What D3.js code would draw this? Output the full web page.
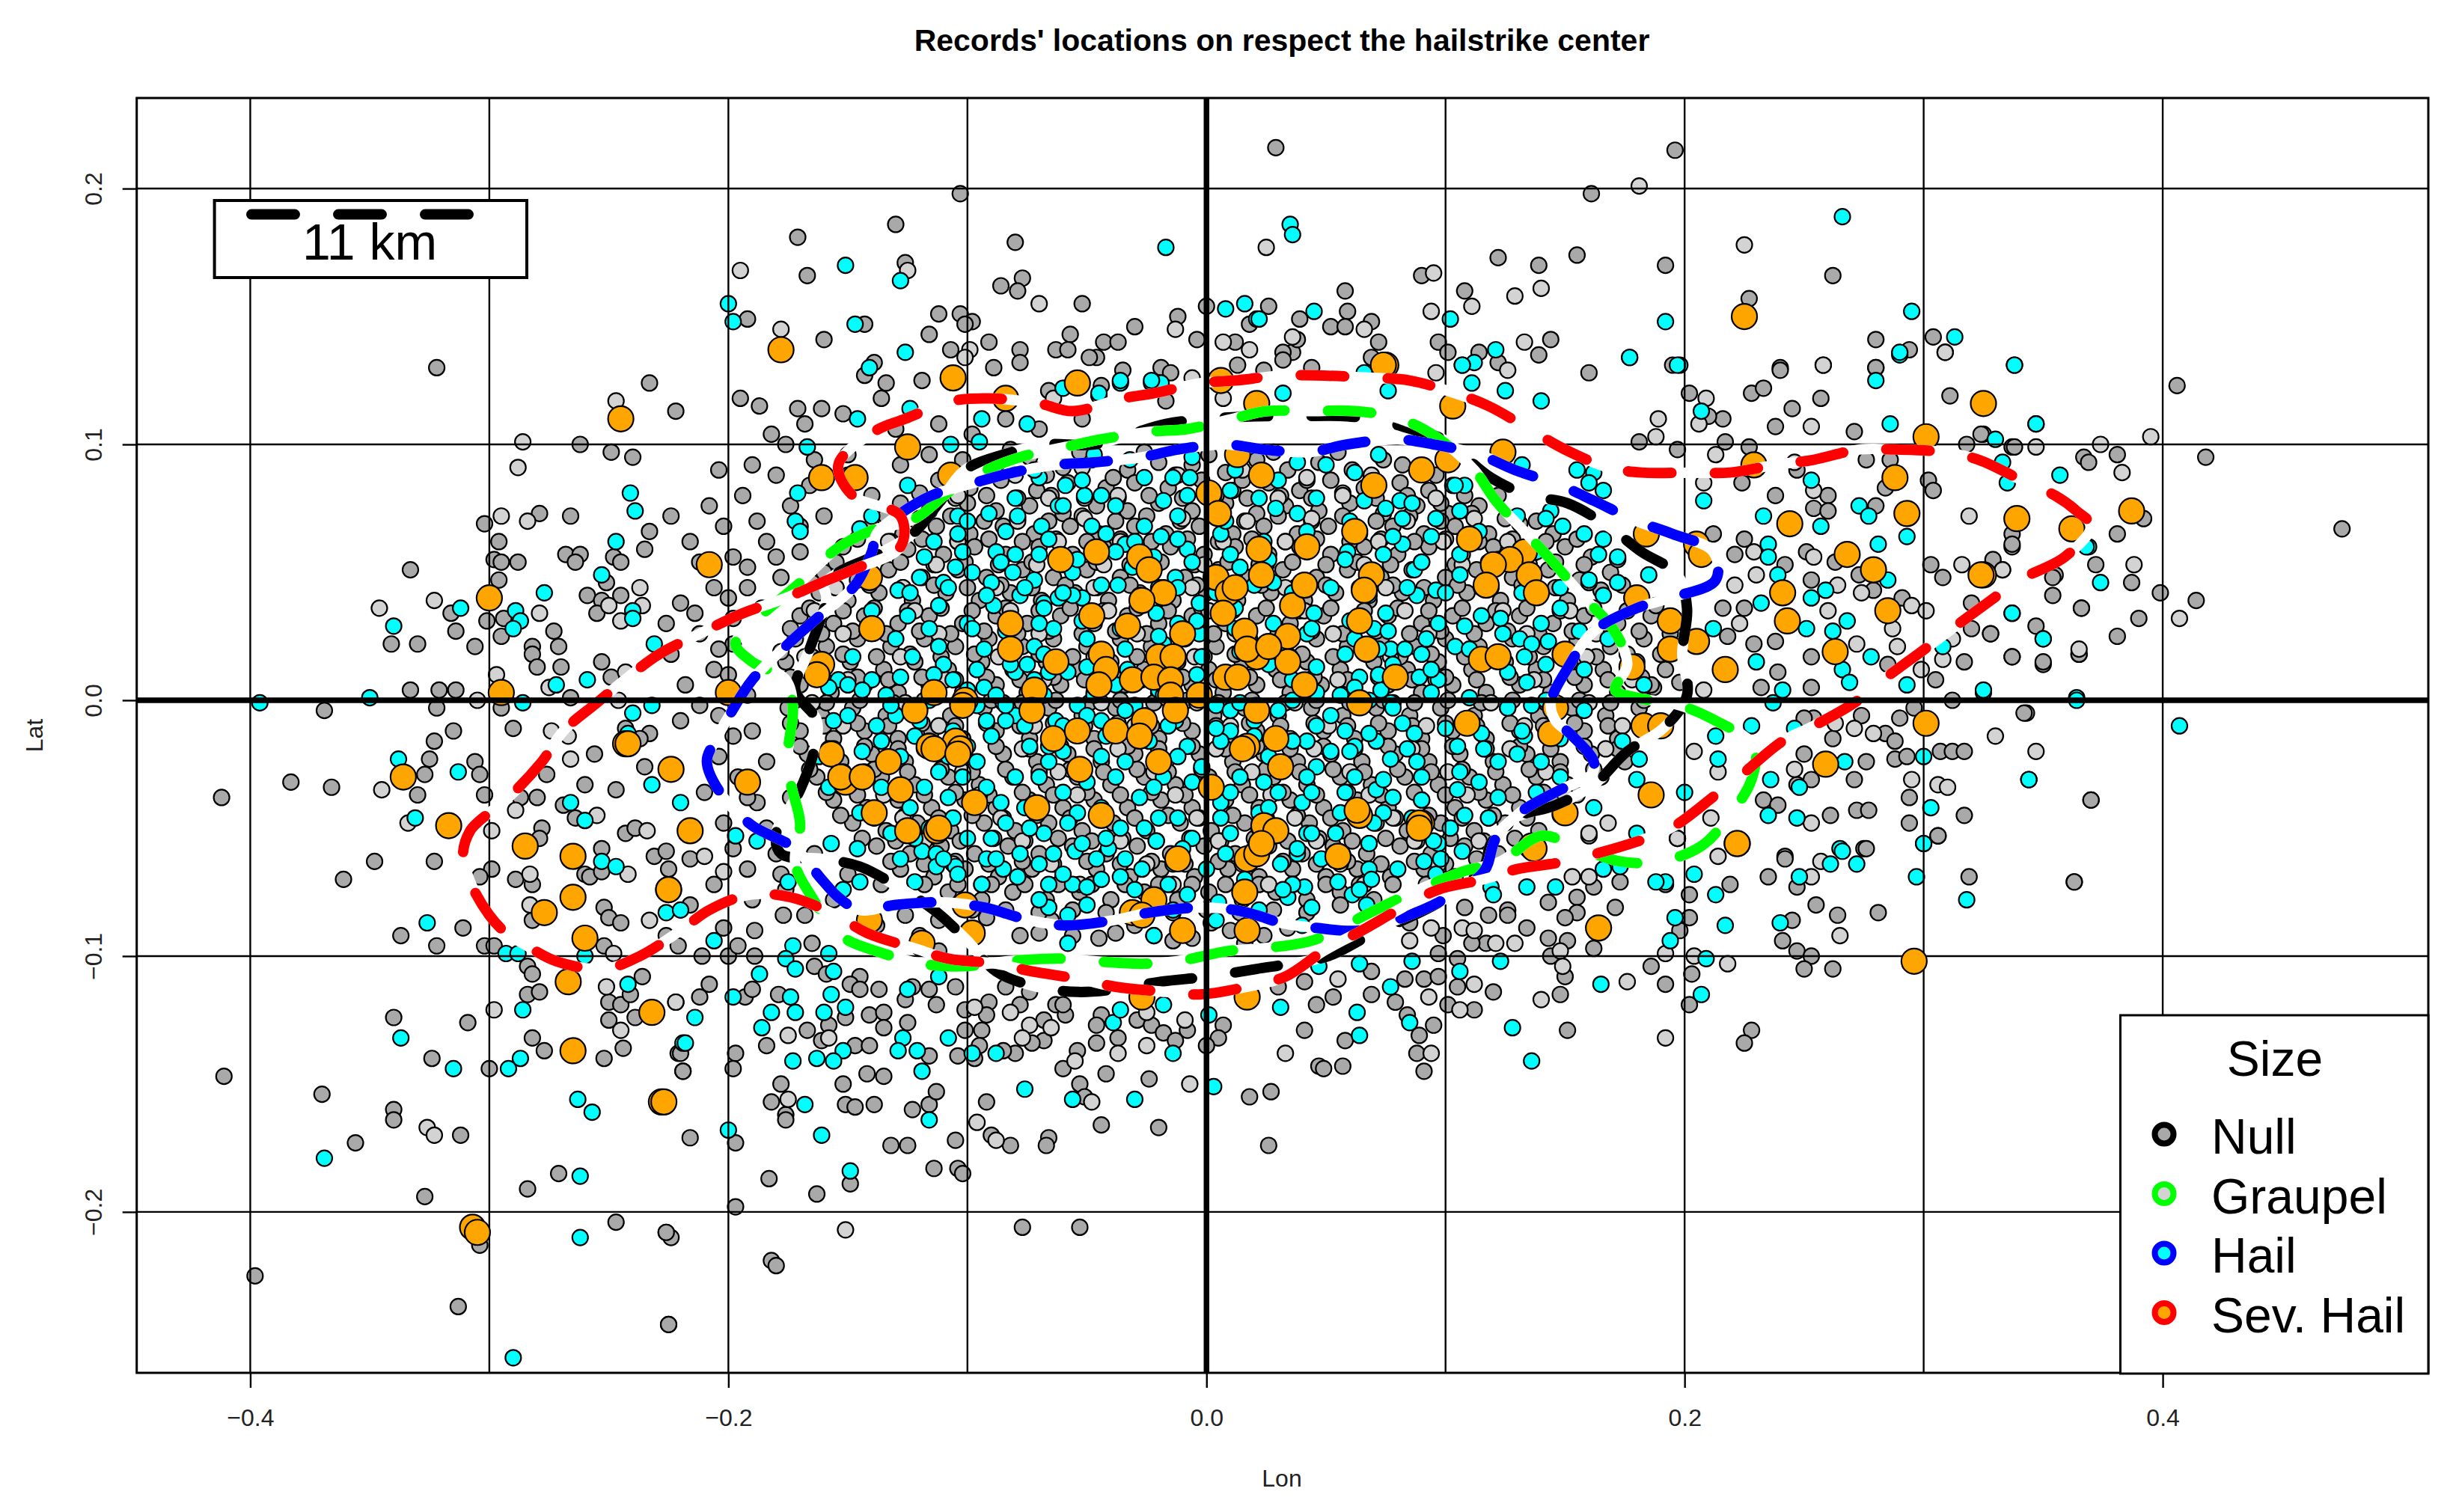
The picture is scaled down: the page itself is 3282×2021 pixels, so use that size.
<!DOCTYPE html>
<html>
<head>
<meta charset="utf-8">
<script src="https://cdn.jsdelivr.net/npm/d3@7"></script>
<style>
    html, body { margin: 0; padding: 0; background: #fff; }
    svg { display: block; }
    text { font-family: "Liberation Sans", Arial, sans-serif; }
</style>
</head>
<body>
<svg id="chart"></svg>
<script>
// all positions are lon,lat pairs in thousandths of a degree
const nullOuter = [
-322,130,-233,124,-262,100,-249,97,-240,95,-279,73,-266,72,-302,69,-233,66,-235,59,-296,62,-298,55,-295,54,-288,54,-268,57,-262,57,-264,54,-248,56,-245,54,-296,47,-333,51,-251,46,-259,41,-253,39,-245,41,-255,34,-316,34,-301,31,-294,32,-314,27,-295,25,-330,22,-341,22,-306,21,-282,21,-282,18,-271,21,-273,27,-280,13,-270,13,-253,15,-249,9,-333,4,-321,4,-314,4,-266,1,-322,-3,-369,-4,-295,-3,-315,-12,-290,-11,-323,-16,-325,-23,-306,-24,-304,-29,-327,-29,-330,-37,-383,-32,-366,-34,-412,-38,-302,-37,-287,-38,-280,-38,-276,-29,-256,-21,-260,-33,-247,-35,-269,-41,-264,-46,-278,-50,-279,-54,-253,-58,-243,-52,-239,-50,-233,-13,-243,-11,-237,-15,-235,-26,
-361,-70,-348,-63,-323,-63,-299,-66,-304,-69,-289,-70,-282,-72,-260,-68,-258,-69,-253,-67,-231,-61,-226,-59,-225,-66,-282,-86,-252,-81,-250,-85,-245,-87,-337,-92,-322,-96,-311,-89,-302,-96,-298,-96,-284,-104,-282,-107,-252,-96,-284,-115,-279,-114,-236,-108,-250,-118,-245,-119,-241,-115,-239,-124,-250,-125,-340,-124,-309,-126,-282,-132,-277,-137,-324,-140,-300,-144,-252,-140,-244,-136,-221,-138,-219,-145,-411,-147,-370,-154,-340,-160,-340,-164,-356,-173,-312,-170,-327,-194,-284,-191,-271,-185,-247,-204,-226,-208,-224,-210,-304,-213,-398,-225,-313,-237,-225,-244,
-103,198,-130,186,-171,181,-167,166,-80,179,-126,171,-86,162,-77,165,-79,160,-52,155,-192,149,-112,151,-103,151,-98,148,-101,147,-143,147,-116,143,-160,141,-30,146,-12,150,-57,143,-91,140,-107,137,-78,137,-63,137,-58,137,-43,140,-37,140,-46,134,-49,134,-78,132,-89,130,-139,132,-143,127,-134,124,-119,125,-195,118,-187,115,-171,114,-161,114,-222,113,-35,129,-19,130,-15,128,-4,141,0,154,13,131,12,140,18,147,-17,117,-44,123,-66,121,
29,216,196,215,161,198,155,174,192,170,122,173,139,170,262,166,90,166,108,160,58,160,227,157,26,154,59,152,39,149,69,148,52,146,58,146,72,140,97,140,101,136,144,141,139,135,114,136,280,141,304,142,294,137,36,136,32,136,32,133,69,134,122,132,160,128,240,130,280,130,195,131,38,141,44,130,24,129,
406,123,418,95,337,99,367,95,369,93,381,96,392,71,381,65,475,67,337,65,337,60,329,54,355,49,354,41,372,53,387,46,399,42,414,39,390,32,366,36,347,29,381,25,328,26,337,17,350,14,365,18,343,-5,370,-39,363,-71,325,104,
240,129,228,120,233,122,257,118,245,114,238,107,271,105,280,130,202,120,216,110,210,111,311,119,217,101,197,98,181,101,227,99,318,100,324,104,338,99,276,94,286,94,247,90,224,85,238,80,260,80,254,75,260,74,280,76,284,83,302,86,304,82,337,61,212,65,221,57,225,63,242,53,251,58,253,47,263,54,273,49,279,43,291,40,303,53,308,48,329,55,354,48,320,38,366,36,320,28,328,26,337,17,350,15,365,18,216,36,225,36,218,25,229,22,238,23,239,11,253,17,232,5,253,5,198,7,187,5,305,8,317,15,285,14,312,0,342,-5,290,-7,296,-3,254,-7,262,-15,250,-7,274,-6,284,-13,288,-16,250,-21,276,-24,288,-23,293,-22,307,-20,312,-20,317,-20,253,-31,271,-31,294,-38,317,-45,306,-53,294,-48,272,-43,277,-43,261,-45,233,-39,239,-41,247,-33,242,-61,275,-58,370,-39,
-211,-100,-200,-100,-189,-100,-196,-96,-221,-96,-202,-89,-189,-90,-177,-84,-165,-95,-208,-111,-212,-116,-193,-116,-190,-113,-179,-115,-164,-104,-159,-107,-145,-108,-149,-111,-145,-113,-137,-113,-141,-123,-135,-122,-135,-128,-158,-127,-167,-129,-161,-133,-151,-124,-125,-126,-126,-117,-113,-119,-105,-112,-116,-113,-123,-112,-101,-121,-91,-118,-92,-123,-101,-129,-94,-129,-95,-135,-147,-135,-141,-135,-184,-135,-197,-138,-198,-144,-220,-138,-219,-145,-116,-139,-104,-139,-97,-140,-80,-138,-85,-137,-68,-133,-73,-134,-78,-119,-84,-112,-74,-114,-63,-119,-59,-123,-60,-119,-68,-125,-44,-123,-46,-127,-46,-134,-37,-132,-54,-137,-60,-144,-42,-146,-29,-125,-23,-127,-18,-130,-8,-129,-13,-133,7,-127,5,-132,0,-135,-24,-148,-53,-150,-51,-155,-142,-146,-135,-147,-152,-150,-178,-150,-182,-157,-176,-162,-176,-164,-151,-158,-147,-159,-139,-158,-123,-160,-116,-158,-113,-153,-92,-157,18,-155,-44,-166,-20,-167,-216,-171,-197,-173,-132,-174,-125,-174,-105,-172,-90,-170,-82,-174,-66,-171,-67,-174,-183,-187,-149,-189,-163,-193,-114,-183,-104,-183,-102,-185,-197,-198,-77,-206,-53,-206,-226,-208,-182,-219,-180,-221,-225,-244,
306,-53,276,-58,242,-62,235,-69,247,-73,219,-72,202,-76,319,-69,363,-71,255,-80,281,-83,264,-84,245,-86,202,-85,171,-81,155,-77,143,-79,155,-83,150,-85,126,-82,126,-84,118,-84,108,-81,134,-89,173,-71,162,-73,192,-72,143,-93,151,-94,162,-97,144,-100,117,-95,111,-95,99,-92,97,-99,105,-101,85,-87,83,-109,91,-109,97,-108,105,-112,120,-114,69,-115,79,-118,53,-116,46,-119,69,-106,41,-110,30,-112,186,-104,203,-107,192,-111,241,-94,247,-98,253,-100,250,-105,262,-105,150,-108,148,-115,101,-119,112,-121,84,-123,95,-127,89,-131,58,-133,41,-129,88,-138,91,-145,47,-143,49,-144,57,-143,27,-153,26,-174,151,-129,228,-129,225,-134,202,-119,198,-90
];
const nullCore = [
-88,92,-74,95,-60,91,-48,94,-33,90,-20,93,-6,92,8,89,21,94,34,90,47,93,61,90,74,94,
-112,86,-99,83,-86,86,-71,82,-58,85,-42,83,-30,85,-16,83,-2,86,11,82,26,85,39,82,52,86,66,83,81,85,93,82,
-128,77,-116,74,-100,77,-88,74,-74,76,-60,73,-46,76,-33,74,-20,77,-6,74,8,77,21,73,33,76,47,74,60,77,74,73,88,76,101,73,114,76,
-140,68,-127,65,-113,68,-99,65,-85,68,-72,65,-57,68,-45,65,-30,68,-17,65,-3,68,11,65,24,68,38,65,51,68,64,65,78,68,91,65,104,68,118,65,131,69,145,65,
-152,60,-138,56,-125,59,-110,57,-97,60,-84,57,-70,60,-56,57,-43,60,-28,57,-15,60,-1,57,12,60,26,57,39,60,52,57,66,60,80,57,93,60,107,57,120,60,136,57,150,60,161,56,
-160,50,-146,47,-133,51,-119,48,-104,51,-92,48,-77,51,-64,48,-50,51,-36,48,-22,51,-9,48,5,51,18,48,32,51,46,48,59,51,73,48,86,51,100,48,113,51,128,48,143,51,156,47,169,50,
-162,42,-150,39,-137,42,-123,39,-109,42,-95,39,-82,42,-69,39,-55,42,-41,39,-28,42,-14,39,0,42,13,39,27,42,41,39,54,42,68,39,82,42,95,39,109,42,123,39,137,42,151,39,165,43,178,40,
-170,33,-156,30,-143,33,-129,30,-116,33,-102,30,-88,33,-75,30,-61,33,-47,30,-33,33,-20,30,-6,33,8,30,21,33,35,30,49,33,62,30,76,33,90,30,103,33,117,30,131,33,145,30,158,33,172,30,186,33,
-172,24,-159,21,-146,24,-132,21,-118,24,-105,21,-91,24,-77,21,-64,24,-50,21,-36,24,-23,21,-9,24,4,21,18,24,32,21,46,24,59,21,73,24,87,21,100,24,114,21,128,24,141,21,155,24,169,21,183,24,
-176,15,-163,12,-149,15,-135,12,-122,15,-108,12,-94,15,-81,12,-67,15,-53,12,-40,15,-26,12,-12,15,1,12,15,15,29,12,42,15,56,12,70,15,84,12,97,15,111,12,125,15,138,12,152,15,166,12,180,15,192,12,
-170,6,-157,3,-143,6,-129,3,-116,6,-102,3,-88,6,-75,3,-61,6,-47,3,-34,6,-20,3,-6,6,7,3,21,6,35,3,48,6,62,3,76,6,90,3,103,6,117,3,131,6,144,3,158,6,172,3,186,6,
-175,-3,-161,-6,-148,-3,-134,-6,-120,-3,-107,-6,-93,-3,-79,-6,-66,-3,-52,-6,-38,-3,-25,-6,-11,-3,3,-6,16,-3,30,-6,44,-3,57,-6,71,-3,85,-6,98,-3,112,-6,126,-3,139,-6,153,-3,167,-6,181,-3,
-170,-12,-156,-15,-143,-12,-129,-15,-115,-12,-102,-15,-88,-12,-74,-15,-61,-12,-47,-15,-33,-12,-20,-15,-6,-12,8,-15,21,-12,35,-15,49,-12,62,-15,76,-12,90,-15,103,-12,117,-15,131,-12,145,-15,158,-12,172,-15,
-167,-21,-153,-24,-140,-21,-126,-24,-112,-21,-99,-24,-85,-21,-71,-24,-58,-21,-44,-24,-30,-21,-17,-24,-3,-21,11,-24,24,-21,38,-24,52,-21,65,-24,79,-21,93,-24,106,-21,120,-24,134,-21,148,-24,161,-21,175,-24,
-163,-30,-149,-33,-136,-30,-122,-33,-108,-30,-95,-33,-81,-30,-67,-33,-54,-30,-40,-33,-26,-30,-13,-33,1,-30,15,-33,28,-30,42,-33,56,-30,69,-33,83,-30,97,-33,110,-30,124,-33,138,-30,151,-33,165,-30,
-156,-39,-142,-42,-129,-39,-115,-42,-101,-39,-88,-42,-74,-39,-60,-42,-47,-39,-33,-42,-19,-39,-6,-42,8,-39,22,-42,35,-39,49,-42,63,-39,76,-42,90,-39,104,-42,117,-39,131,-42,145,-39,
-148,-48,-134,-51,-121,-48,-107,-51,-93,-48,-80,-51,-66,-48,-52,-51,-39,-48,-25,-51,-11,-48,2,-51,16,-48,30,-51,43,-48,57,-51,71,-48,84,-51,98,-48,112,-51,125,-48,139,-51,
-138,-57,-124,-60,-111,-57,-97,-60,-83,-57,-70,-60,-56,-57,-42,-60,-29,-57,-15,-60,-1,-57,12,-60,26,-57,40,-60,53,-57,67,-60,81,-57,94,-60,108,-57,122,-60,
-128,-66,-114,-69,-101,-66,-87,-69,-73,-66,-60,-69,-46,-66,-32,-69,-19,-66,-5,-69,9,-66,22,-69,36,-66,50,-69,63,-66,77,-69,91,-66,104,-69,
-108,-75,-94,-78,-81,-75,-67,-78,-53,-75,-40,-78,-26,-75,-12,-78,1,-75,15,-78,29,-75,42,-78,56,-75,70,-78,
-92,-85,-78,-92,-65,-86,-45,-93,-30,-88,-14,-94,2,-87,16,-95,34,-89,
-180,-60,-192,-66,-206,-72,-190,-78,-176,-74,-216,-80,-226,-92,-164,-60,-174,-38,-188,-40,-202,-48,-216,-62,-184,-24,-196,-30,-210,-36,-190,-12,-204,-6,-192,2,-206,12,-220,-8,-218,6,-198,22,-212,26,-224,18,-186,36,-200,40,-214,34,-178,48,-192,52,-206,44,-220,38,-170,58,-184,62,-198,56,-212,54,-226,30,-160,72,-174,76,-188,70,-202,68,-216,62,-166,84,-180,88,-194,80,-208,76,-224,72,-150,96,-164,94,-176,100,-190,92,-204,90,-130,106,-112,108,-98,104,-84,110,-70,106,-52,110,-136,118,-152,112,-168,108,-182,104
];
const nullDense = [
-82,98,-67,88,-53,97,-39,87,-26,97,-13,88,1,96,15,86,28,97,42,86,55,97,69,87,82,92,96,88,
-120,81,-105,79,-92,80,-79,79,-65,80,-51,79,-37,79,-24,80,-10,79,4,80,17,79,31,80,44,79,57,81,71,79,84,80,98,77,108,80,122,80,
-134,72,-121,70,-107,72,-93,70,-79,71,-66,70,-52,72,-38,70,-25,72,-11,70,3,72,16,70,30,72,44,70,57,72,71,70,85,72,98,70,111,73,125,71,138,70,
-146,63,-132,62,-119,63,-104,62,-91,63,-77,62,-63,63,-50,62,-36,63,-23,62,-8,63,5,62,19,63,33,62,46,63,60,62,73,63,87,62,100,63,114,62,128,63,142,62,155,63,
-155,54,-142,53,-128,54,-114,53,-101,54,-87,53,-73,54,-60,53,-46,54,-32,53,-19,54,-5,53,9,54,22,53,36,54,50,53,63,54,77,53,90,54,104,53,118,54,132,53,146,54,158,53,172,55,
-165,46,-155,44,-141,45,-127,44,-114,45,-100,44,-86,45,-73,44,-59,45,-46,44,-32,45,-18,44,-4,45,9,44,23,45,37,44,50,45,64,44,78,45,91,44,105,45,119,44,132,45,146,44,160,46,174,45,
-166,36,-152,35,-139,36,-125,35,-111,36,-98,35,-84,36,-70,35,-57,36,-43,35,-29,36,-16,35,-2,36,11,35,25,36,39,35,52,36,66,35,80,36,93,35,107,36,121,35,134,36,148,35,162,36,176,35,188,37,
-174,28,-161,26,-148,27,-134,26,-120,27,-107,26,-93,27,-79,26,-66,27,-52,26,-38,27,-25,26,-11,27,3,26,16,27,30,26,44,27,57,26,71,27,85,26,98,27,112,26,126,27,139,26,153,27,167,26,181,27,194,26,
-178,19,-165,17,-152,18,-138,17,-124,18,-111,17,-97,18,-83,17,-70,18,-56,17,-42,18,-29,17,-15,18,-1,17,12,18,26,17,40,18,53,17,67,18,81,17,94,18,108,17,122,18,135,17,149,18,163,17,176,18,190,18,
-174,9,-160,8,-146,9,-133,8,-119,9,-105,8,-92,9,-78,8,-64,9,-51,8,-37,9,-23,8,-10,9,4,8,18,9,31,8,45,9,59,8,72,9,86,8,100,9,113,8,127,9,141,8,154,9,168,8,182,9,
-172,0,-159,-1,-145,0,-131,-1,-118,0,-104,-1,-90,0,-77,-1,-63,0,-49,-1,-36,0,-22,-1,-8,0,5,-1,19,0,33,-1,46,0,60,-1,74,0,87,-1,101,0,115,-1,128,0,142,-1,156,0,169,-1,183,0,
-174,-9,-160,-10,-146,-9,-133,-10,-119,-9,-105,-10,-92,-9,-78,-10,-64,-9,-51,-10,-37,-9,-23,-10,-10,-9,4,-10,18,-9,31,-10,45,-9,59,-10,72,-9,86,-10,100,-9,113,-10,127,-9,141,-10,154,-9,168,-10,182,-9,
-170,-18,-156,-19,-143,-18,-129,-19,-115,-18,-102,-19,-88,-18,-74,-19,-61,-18,-47,-19,-33,-18,-20,-19,-6,-18,8,-19,21,-18,35,-19,49,-18,62,-19,76,-18,90,-19,103,-18,117,-19,131,-18,144,-19,158,-18,172,-19,
-166,-27,-152,-28,-139,-27,-125,-28,-111,-27,-98,-28,-84,-27,-70,-28,-57,-27,-43,-28,-29,-27,-16,-28,-2,-27,12,-28,25,-27,39,-28,53,-27,66,-28,80,-27,94,-28,107,-27,121,-28,135,-27,148,-28,162,-27,
-159,-36,-146,-37,-132,-36,-118,-37,-105,-36,-91,-37,-77,-36,-64,-37,-50,-36,-36,-37,-23,-36,-9,-37,5,-36,18,-37,32,-36,46,-37,59,-36,73,-37,87,-36,100,-37,114,-36,128,-37,141,-36,155,-37,
-153,-45,-139,-46,-126,-45,-112,-46,-98,-45,-85,-46,-71,-45,-57,-46,-44,-45,-30,-46,-16,-45,-3,-46,11,-45,25,-46,38,-45,52,-46,66,-45,79,-46,93,-45,107,-46,120,-45,134,-46,148,-45,
-144,-54,-130,-55,-117,-54,-103,-55,-89,-54,-76,-55,-62,-54,-48,-55,-35,-54,-21,-55,-7,-54,6,-55,20,-54,34,-55,47,-54,61,-55,75,-54,88,-55,102,-54,116,-55,129,-54,
-132,-63,-118,-64,-105,-63,-91,-64,-77,-63,-64,-64,-50,-63,-36,-64,-23,-63,-9,-64,5,-63,18,-64,32,-63,46,-64,59,-63,73,-64,87,-63,100,-64,113,-62,
-118,-72,-104,-72,-90,-72,-76,-72,-62,-72,-48,-72,-34,-72,-20,-72,-6,-72,8,-72,22,-72,36,-72,50,-72,64,-72,78,-72,92,-72,
-98,-82,-84,-82,-70,-83,-56,-82,-42,-83,-28,-82,-14,-83,0,-82,14,-83,28,-82,42,-83,56,-80,-70,-91,-56,-92,-38,-91,-22,-92,-6,-93,10,-90,24,-92,
-150,88,-140,80,-128,92,-116,96,-102,94,-170,68,-180,56,-192,44,-198,32,-204,20,-200,10,-212,-2,-198,-14,-204,-22,-192,-38,-198,-58,-184,-50,-178,-68,-168,-84,-150,-68,-156,-78,-136,-72,-126,-84,-138,-88,-112,-86,-120,-92,-112,-98
];
const graupelOuter = [
-247,117,-286,101,-288,91,-295,72,-284,70,-237,44,-346,36,-323,39,-250,37,-245,31,-236,37,-279,34,-297,10,-275,5,-243,11,-305,0,-246,0,-274,-12,-267,-14,-266,-23,-345,-35,-289,-43,-255,-45,-334,-48,-299,-51,-234,-51,
-283,-68,-242,-68,-283,-80,-233,-86,-248,-99,-251,-112,-222,-118,-298,-121,-245,-129,-326,-167,-323,-170,
-195,168,-178,145,-125,168,-70,155,-13,145,7,140,18,137,-99,137,-101,134,-6,126,-64,118,7,118,
181,201,225,178,25,177,95,167,140,161,129,158,111,154,94,152,36,142,66,145,133,140,309,136,258,131,126,129,96,128,
395,103,374,100,347,99,383,89,388,53,333,51,407,32,365,20,330,-14,347,-20,
258,131,253,107,189,110,206,108,209,118,188,103,309,136,246,93,208,85,213,96,254,82,229,58,254,56,230,49,221,45,264,45,274,42,223,30,260,35,295,37,301,35,319,72,316,53,333,51,287,28,272,22,289,21,308,16,312,24,208,4,299,12,204,-20,263,-9,271,-11,279,-13,246,-27,295,-31,306,-33,310,-34,214,-28,253,-48,211,-46,197,-54,168,-48,160,-53,
-222,-118,-97,-120,-82,-122,-74,-127,-77,-132,-65,-128,-175,-131,-158,-132,-25,-135,-37,-138,-55,-141,-9,-125,-25,-122,-175,-156,-7,-150,-48,-157,-96,-165,-88,-172,-151,-207,-210,-61,-202,-67,
253,-69,214,-61,257,-63,160,-52,197,-54,265,-92,153,-69,160,-69,129,-95,121,-95,107,-89,112,-90,94,-89,85,-94,192,-99,204,-100,218,-103,148,-98,149,-104,176,-110,140,-117,112,-111,93,-116,106,-121,55,-109,192,-132,33,-138,94,-138
];
const graupelCore = [
-80,88,-52,91,-12,88,15,90,42,87,69,88,-104,80,-66,79,-37,80,3,80,30,79,57,80,96,79,-120,71,-79,70,-51,71,-10,71,17,70,44,71,84,70,112,71,-133,62,-104,62,-62,62,-36,62,7,62,33,62,72,62,99,62,126,62,-142,52,-113,53,-71,53,-43,53,-1,53,25,53,66,53,107,53,135,53,
-155,44,-127,44,-88,44,-47,44,-6,44,33,44,75,44,115,44,148,44,-164,35,-122,35,-82,35,-41,35,1,35,41,35,83,35,124,35,152,35,-152,26,-112,26,-70,26,-29,26,12,26,53,26,93,26,134,26,163,26,-168,17,-128,17,-87,17,-47,17,-5,17,35,17,77,17,118,17,159,17,
-150,8,-109,8,-68,8,-27,8,14,8,55,8,96,8,137,8,178,8,-165,-1,-126,-1,-85,-1,-44,-1,-4,-1,37,-1,78,-1,119,-1,160,-1,-152,-10,-112,-10,-72,-10,-30,-10,10,-10,51,-10,92,-10,133,-10,174,-10,
-158,-19,-118,-19,-77,-19,-37,-19,4,-19,45,-19,86,-19,127,-19,167,-19,-143,-28,-102,-28,-62,-28,-22,-28,19,-28,60,-28,101,-28,142,-28,-135,-37,-95,-37,-54,-37,-13,-37,27,-37,68,-37,109,-37,150,-37,-127,-46,-86,-46,-45,-46,-4,-46,37,-46,78,-46,118,-46,-118,-55,-77,-55,-36,-55,5,-55,46,-55,87,-55,114,-55,-106,-64,-65,-64,-25,-64,15,-64,56,-64,97,-64,-94,-72,-53,-72,-14,-72,26,-72,66,-72
];
const hailOuter = [
-241,81,-239,74,-247,62,-253,49,-277,42,-312,36,-340,29,-289,35,-287,31,-290,28,-240,35,-240,32,-272,6,-259,8,-231,22,-350,1,-396,-1,-286,-1,-232,-2,-240,-5,-338,-23,-313,-28,-266,-40,-260,-47,-331,-46,-242,-13,-232,-33,-220,-40,
-253,-63,-247,-65,-326,-87,-293,-99,-288,-99,-260,-100,-226,-83,-220,-82,-242,-111,-286,-121,-337,-132,-315,-144,-287,-140,-292,-144,-219,-134,-263,-156,-257,-161,-369,-179,-262,-186,-262,-210,-290,-257,
-17,177,-151,170,-128,164,-200,155,-198,148,-147,147,-126,136,-141,130,8,153,16,155,-36,124,-23,124,-19,124,-60,122,-45,119,-124,114,21,149,
266,189,35,186,36,182,295,152,45,152,192,148,102,149,22,149,313,142,121,137,290,135,177,134,198,131,112,132,107,131,338,131,66,128,
338,131,347,108,330,102,357,88,333,93,335,85,369,60,374,46,337,34,350,24,364,1,407,-10,344,-31,325,3,
177,134,197,131,207,113,290,136,280,125,286,108,347,108,253,86,208,78,233,72,257,68,273,76,277,72,293,64,281,61,368,60,235,61,235,56,239,49,259,43,285,47,232,38,253,40,337,34,251,28,268,31,262,27,350,24,308,21,230,15,266,12,278,17,269,7,241,4,293,6,325,4,364,0,183,6,212,28,237,-1,228,-10,246,-11,213,-14,214,-23,267,-24,300,-22,236,-31,248,-34,344,-31,200,-36,303,-42,235,-45,247,-46,300,-56,162,-42,265,-58,
-206,-94,-173,-96,-176,-101,-172,-105,-187,-107,-156,-106,-158,-99,-198,-116,-182,-122,-174,-116,-172,-122,-186,-128,-214,-124,-218,-134,-157,-115,-160,-122,-151,-120,-125,-113,-112,-108,-127,-132,-108,-132,-129,-137,-121,-137,-119,-145,-152,-137,-163,-140,-156,-141,-173,-141,-98,-138,-88,-138,-39,-126,-36,-121,-18,-119,1,-123,-14,-138,-76,-152,-56,-156,-30,-156,3,-151,-168,-158,-116,-164,-200,-168,-161,-170,-149,-184,
266,-59,261,-64,272,-64,300,-56,248,-69,297,-69,318,-78,204,-68,192,-71,188,-71,213,-76,166,-66,173,-65,146,-73,134,-73,119,-73,120,-76,196,-85,217,-88,240,-87,194,-94,123,-102,209,-101,86,-102,106,-106,64,-103,47,-104,77,-112,165,-111,207,-115,31,-120,63,-122,85,-126,128,-128,64,-131,136,-141
];
const hailCore = [
-125,84,-171,81,-172,70,-170,66,-140,72,-145,67,-104,72,-91,73,-79,72,-69,68,-80,79,-94,110,-146,110,-167,99,-107,100,-95,101,-75,108,-45,120,-36,125,-23,125,-47,96,-26,87,-14,87,-7,87,10,82,29,75,38,73,6,65,32,120,-6,95,38,93,
-51,80,-44,80,-62,76,-59,84,-70,87,-12,72,-26,68,-42,65,-34,61,-19,64,-8,59,-13,48,-37,45,-52,40,-68,38,-56,41,-62,40,-88,58,-80,57,-81,50,-90,46,-78,41,-89,37,-104,65,-105,52,-110,46,-120,48,-129,43,-112,37,-125,33,-140,35,-114,62,
-64,28,-70,30,-72,21,-58,11,-96,12,-93,5,-80,11,-75,14,-21,34,-12,30,-106,8,-112,21,-123,17,-128,9,-140,8,-148,17,-154,8,-150,6,-134,2,-158,5,-156,-8,-138,-10,
76,121,111,124,107,131,125,121,140,117,132,92,155,90,162,89,166,82,160,85,144,74,142,71,149,68,158,65,166,63,164,57,172,56,185,49,160,47,172,46,166,41,148,36,168,24,131,24,136,22,143,23,133,17,134,7,94,64,106,74,106,49,87,51,88,41,96,43,75,34,82,61,82,71,75,75,81,78,62,89,103,84,108,84,115,33,123,32,97,30,104,21,77,20,83,20,90,18,97,8,89,9,64,9,73,4,77,-1,136,-2,82,-9,87,-13,115,-13,133,-14,105,-18,77,-23,88,-24,122,-24,130,-21,140,-24,174,-16,181,-23,180,-31,148,-30,71,-35,90,-39,105,-35,114,-32,108,-45,68,-56,97,-56,180,-52,62,-18,71,-16,
-175,-71,-188,-55,-197,-53,-152,-74,-145,-71,-157,-56,-119,-59,-113,-60,-113,-65,-105,-65,-122,-71,-92,-62,-85,-66,-79,-69,-70,-64,-66,-72,-56,-72,-50,-73,-44,-70,-36,-69,-27,-66,-8,-76,-22,-92,-58,-84,-66,-81,-58,-95,-41,-58,-55,-59,-21,-55,5,-79,
107,-59,91,-63,98,-62,95,-55,68,-56,42,-52,31,-64,38,-60,68,-66,55,-71,69,-70,61,-76,34,-77,41,-73,36,-72,44,-81,67,-80,
-98,50,-72,47,-56,50,-31,52,-20,44,-3,38,14,52,28,46,45,34,59,58,70,28,-93,20,-68,18,-50,24,-33,12,-18,22,-3,26,12,28,26,14,42,26,58,18,72,10,-96,-2,-80,-6,-63,-8,-47,2,-30,-2,-13,-8,4,-2,20,-8,36,0,52,-6,68,0,
-120,-8,-106,-12,-90,-14,-74,-18,-60,-10,-42,-14,-24,-16,-8,-18,10,-12,26,-22,42,-16,58,-12,-128,-22,-112,-28,-96,-24,-80,-30,-66,-24,-50,-32,-34,-24,-18,-30,-2,-26,14,-30,30,-36,46,-26,62,-30,78,-38,
-144,-20,-136,-34,-124,-42,-108,-38,-92,-34,-76,-42,-60,-36,-44,-42,-28,-38,-12,-46,6,-40,22,-44,40,-40,56,-44,-132,-52,-116,-50,-100,-54,-84,-48,-68,-52,-52,-56,-36,-50,-20,-46,-6,-54,10,-52,26,-54,44,-52,-145,-44,-150,-6,-162,-22,-158,-34,-146,-58,-128,-62,-104,-68,-88,-62,-64,-60,-34,-62,-14,-64,8,-60,
72,20,56,2,46,-10,36,8,20,16,10,-4,-4,10,-20,4,-38,6,-54,-2,-72,8,-84,-8,-100,-18,-116,-16,-130,-6,-144,4,-110,14,-88,2,-66,-18,-44,-22,-16,-10,6,-16,24,-32,44,-36,60,-20,74,-44
];
const hailDense = [
-118,56,-102,58,-86,54,-70,57,-54,55,-38,58,-22,56,-6,54,10,57,26,55,42,58,58,55,74,57,90,54,106,57,122,55,138,58,
-124,42,-108,44,-92,41,-76,44,-60,42,-44,45,-28,41,-12,44,4,42,20,45,36,42,52,44,68,41,84,44,100,42,116,45,132,42,148,44,
-116,28,-100,30,-84,27,-68,36,-52,31,-36,28,-20,25,-4,31,12,36,28,30,44,28,60,31,76,27,92,24,108,29,124,26,140,30,156,27,
-130,24,-114,10,-98,28,-82,14,-66,11,-50,13,-34,20,-18,14,-2,17,14,19,30,21,46,13,62,24,78,14,94,12,110,20,126,11,142,14,158,12,
-132,-2,-116,0,-100,4,-84,-2,-68,2,-50,-6,-34,-4,-18,2,-2,3,14,-1,30,-4,46,3,62,5,78,-3,94,3,110,1,126,-3,142,0,158,-4,
-136,-16,-122,-14,-108,-22,-92,-8,-76,-10,-60,-20,-44,-8,-28,-10,-12,-22,4,-11,20,-14,36,-16,52,-20,68,-13,84,-19,100,-11,116,-19,132,-12,148,-15,
-118,-34,-102,-30,-86,-40,-70,-30,-54,-44,-38,-30,-22,-34,-6,-32,10,-36,26,-42,42,-30,58,-36,74,-31,90,-30,106,-28,122,-38,138,-36,
-122,-54,-106,-46,-90,-54,-74,-50,-58,-48,-42,-54,-26,-50,-10,-58,6,-46,22,-50,38,-58,54,-52,70,-48,86,-46,102,-50,118,-46,
-110,-62,-94,-72,-78,-60,-60,-68,-46,-62,-30,-74,-16,-72,0,-66,16,-70,32,-74,48,-62,64,-74,80,-66,96,-68,-70,-78,-50,-80,-32,-84,-14,-82,4,-86,22,-82,40,-88,
-100,70,-84,66,-66,63,-48,68,-30,62,-12,63,8,70,24,62,42,66,60,70,78,64,96,71,114,66,130,72,-60,76,-38,76,-18,78,4,76,22,79,46,79,66,78,86,77,104,84,-72,90,-52,86,-32,94,-8,80,12,90,30,86,50,92,72,96
];
const sevHail = [
-245,110,-300,40,-295,3,-336,-30,-243,-17,-317,-49,-285,-57,-265,-61,-225,-74,-265,-77,-277,-83,-260,-93,-267,-110,-232,-122,-265,-137,-228,-157,-307,-206,-305,-208,
-178,137,-106,126,-54,124,-84,118,6,125,225,150,75,131,
339,71,362,67,387,74,325,116,325,49,
301,103,229,92,288,87,293,73,244,69,268,57,279,51,324,49,205,61,207,57,241,42,243,31,285,35,263,19,217,12,301,-9,259,-25,222,-56,186,-37,150,-44,183,-10,190,-10,144,-13,178,13,150,18,194,20,205,23,194,31,180,40,184,65,146,-3,124,97,101,94,90,90,103,115,74,131,70,84,110,63,133,58,127,55,120,53,135,49,138,42,117,45,69,49,66,43,64,31,67,20,62,66,115,16,122,17,79,9,64,-1,109,-9,90,-48,64,-45,136,-57,
-125,99,-161,87,-147,87,-107,88,21,116,13,96,23,88,1,81,5,73,-61,55,-46,58,-28,56,-24,51,-18,42,-27,39,22,59,42,60,23,49,4,48,9,42,7,34,12,44,36,37,41,45,-140,28,-161,14,-163,10,-48,33,-33,29,-10,26,-82,30,-82,20,-63,15,-44,18,-20,17,-14,17,-42,12,-31,8,-45,6,-22,9,-15,8,-72,4,-114,3,-101,0,16,27,8,9,34,25,21,17,34,15,17,20,13,9,41,6,26,21,-3,2,-15,2,-122,-4,-102,-2,-73,-4,-26,-8,-13,-4,21,-4,-105,-16,-103,-19,-64,-15,-54,-12,-38,-12,-28,-14,29,-15,-116,-18,17,-18,-141,48,
-216,-51,-125,-51,-113,-51,-225,-74,-141,-86,-119,-95,-101,-80,-98,-91,-12,-62,-22,-78,-31,-83,-27,-84,-10,-90,16,-75,17,-62,17,-90,-27,-116,17,-116,-227,-157,
-133,-24,-128,-35,-114,-19,-104,-21,-151,-32,-157,-21,-139,-44,-112,-50,-97,-40,-71,-42,-53,-27,-44,-45,-20,-24,2,-34,15,-19,24,-49,21,-60,31,-26,63,-43,55,-61,89,-48,-208,53,-140,28,-242,-17,-224,-27,-192,-32,-153,-30,-144,-30,-200,3,
296,-102,164,-89,137,-58,55,-61,89,-50,29,-51,23,-56,222,-56
];

// dashed contours of each class, lon,lat in thousandths, followed round the ring
const nullContour = [
-172,4,-166,20,-159,40,-160,45,-154,50,-140,56,-123,65,-112,77,-101,90,-85,96,-67,100,-47,100,-17,108,1,110,20,111,34,111,59,111,74,109,89,105,99,102,119,87,135,80,151,77,168,68,182,58,197,49,201,36,199,18,201,2,191,-11,176,-20,162,-33,146,-41,129,-46,119,-56,116,-65,99,-78,68,-92,51,-100,35,-103,21,-105,1,-108,-19,-110,-38,-113,-54,-114,-71,-112,-88,-106,-100,-94,-114,-82,-129,-73,-145,-65,-161,-62,-178,-60,-180,-52,-170,-35,-164,-19,-163,-8
];
const graupelContour = [
-170,46,-155,59,-141,66,-122,71,-107,82,-92,90,-78,95,-59,99,-44,102,-23,105,-8,106,11,110,25,113,43,113,62,113,81,110,96,103,112,90,121,78,134,65,144,55,158,40,170,28,176,14,171,4,180,1,198,-2,213,-8,229,-18,228,-31,218,-46,207,-57,190,-63,173,-63,154,-57,140,-53,123,-63,107,-67,89,-74,75,-80,60,-87,44,-94,23,-97,9,-98,-12,-102,-27,-103,-47,-102,-61,-101,-83,-102,-102,-104,-119,-103,-135,-99,-153,-92,-165,-77,-172,-64,-170,-48,-174,-32,-175,-20,-173,-3,-176,8,-190,15,-197,22,-190,30
];
const hailContour = [
-163,32,-147,45,-140,58,-138,65,-131,71,-115,80,-97,85,-81,89,-63,92,-47,93,-27,95,-12,98,8,100,24,98,43,97,59,100,80,102,95,100,114,96,129,90,148,84,162,78,180,70,195,65,212,58,213,47,194,40,180,36,162,27,152,14,144,-1,146,-8,152,-13,162,-24,161,-29,148,-35,131,-44,121,-54,116,-67,99,-78,82,-85,64,-90,46,-89,31,-87,21,-84,12,-82,-3,-81,-24,-83,-39,-86,-59,-88,-74,-86,-93,-81,-109,-79,-130,-80,-145,-82,-154,-77,-161,-70,-172,-58,-190,-49,-202,-38,-209,-24,-205,-15,-199,-5,-190,8,-175,22
];
const sevHailContour = [
-176,40,-161,46,-148,51,-128,60,-128,72,-148,80,-154,92,-139,105,-126,110,-106,117,-91,118,-70,116,-56,113,-35,118,-22,120,-2,124,12,125,34,127,70,126,85,125,104,120,118,115,135,106,150,98,168,91,182,89,203,89,219,89,238,92,254,94,273,98,288,98,308,97,323,94,341,86,355,80,364,74,370,68,359,56,340,47,328,39,312,28,299,19,283,8,271,-1,254,-10,241,-16,224,-29,213,-37,196,-49,184,-54,150,-63,130,-66,116,-70,97,-74,82,-81,65,-90,49,-98,33,-108,17,-112,-3,-115,-17,-114,-38,-112,-53,-109,-73,-106,-88,-103,-108,-101,-122,-97,-142,-91,-155,-84,-174,-77,-191,-76,-208,-82,-220,-90,-237,-100,-252,-105,-272,-102,-286,-95,-293,-91,-300,-84,-308,-71,-311,-60,-308,-51,-304,-47,-292,-38,-278,-24,-269,-12,-255,-1,-242,9,-229,18,-212,26,-194,34
];

const xTicks = [-0.4, -0.2, 0, 0.2, 0.4];
const yTicks = [-0.2, -0.1, 0, 0.1, 0.2];
const xGrid = [-0.4, -0.3, -0.2, -0.1, 0, 0.1, 0.2, 0.3, 0.4];
const sizeNames = ["Null", "Graupel", "Hail", "Sev. Hail"];
const lineColors = ["#000000", "#00ff00", "#0000ff", "#ff0000"];
const fillColors = ["#a9a9a9", "#d3d3d3", "#00ffff", "#ffa500"];

const width = 3282, height = 2021;
const margin = {left: 182.7, right: 3245, top: 131, bottom: 1835};

const x = d3.scaleLinear().domain([-0.4475, 0.5111]).range([margin.left, margin.right]);
const y = d3.scaleLinear().domain([-0.2629, 0.2354]).range([margin.bottom, margin.top]);

const svg = d3.select("#chart").attr("width", width).attr("height", height);

function toPoints(flat) {
    return d3.range(0, flat.length - 1, 2).map(i => [flat[i] / 1000, flat[i + 1] / 1000]);
}

function drawPoints(flat, color, radius) {
    svg.append("g")
        .selectAll("circle")
        .data(toPoints(flat))
        .join("circle")
        .attr("cx", d => x(d[0]))
        .attr("cy", d => y(d[1]))
        .attr("r", radius)
        .attr("fill", color)
        .attr("stroke", "black")
        .attr("stroke-width", 2.2);
}

function drawGrid(color) {
    const grid = svg.append("g").attr("stroke", color).attr("stroke-width", 2.4);
    grid.selectAll("line.v").data(xGrid).join("line").attr("class", "v")
        .attr("x1", d => x(d)).attr("x2", d => x(d))
        .attr("y1", margin.top).attr("y2", margin.bottom);
    grid.selectAll("line.h").data(yTicks).join("line").attr("class", "h")
        .attr("x1", margin.left).attr("x2", margin.right)
        .attr("y1", d => y(d)).attr("y2", d => y(d));
}

function drawContour(flat, color) {
    const path = d3.line()
        .x(d => x(d[0]))
        .y(d => y(d[1]))
        .curve(d3.curveCatmullRomClosed.alpha(0.5));
    const points = toPoints(flat);
    svg.append("path")
        .attr("d", path(points))
        .attr("fill", "none")
        .attr("stroke", "white")
        .attr("stroke-width", 14);
    svg.append("path")
        .attr("d", path(points))
        .attr("fill", "none")
        .attr("stroke", color)
        .attr("stroke-width", 14)
        .attr("stroke-linecap", "round")
        .attr("stroke-dasharray", "58 58");
}

drawPoints(nullOuter.concat(nullCore, nullDense), fillColors[0], 10.5);
drawPoints(graupelOuter.concat(graupelCore), fillColors[1], 10.5);
drawPoints(hailOuter.concat(hailCore, hailDense), fillColors[2], 10.5);
drawGrid("black");
drawPoints(sevHail, fillColors[3], 17);

drawContour(nullContour, lineColors[0]);
drawContour(graupelContour, lineColors[1]);
drawContour(hailContour, lineColors[2]);
drawContour(sevHailContour, lineColors[3]);

// thick axes through the hailstrike center
svg.append("line")
    .attr("x1", margin.left).attr("x2", margin.right)
    .attr("y1", y(0)).attr("y2", y(0))
    .attr("stroke", "black").attr("stroke-width", 7.5);
svg.append("line")
    .attr("x1", x(0)).attr("x2", x(0))
    .attr("y1", margin.top).attr("y2", margin.bottom)
    .attr("stroke", "black").attr("stroke-width", 7.5);

svg.append("rect")
    .attr("x", margin.left).attr("y", margin.top)
    .attr("width", margin.right - margin.left).attr("height", margin.bottom - margin.top)
    .attr("fill", "none").attr("stroke", "black").attr("stroke-width", 3);

const xAxis = svg.append("g")
    .attr("transform", `translate(0,${margin.bottom})`)
    .call(d3.axisBottom(x).tickValues(xTicks).tickSize(20).tickFormat(d3.format(".1f")));
const yAxis = svg.append("g")
    .attr("transform", `translate(${margin.left},0)`)
    .call(d3.axisLeft(y).tickValues(yTicks).tickSize(19).tickFormat(d3.format(".1f")));
[xAxis, yAxis].forEach(a => {
    a.select(".domain").remove();
    a.selectAll("line").attr("stroke", "black").attr("stroke-width", 2.4);
    a.selectAll("text")
        .style("font-family", '"Liberation Sans", Arial, sans-serif')
        .style("font-size", "32px")
        .attr("fill", "#222");
});
xAxis.selectAll("text").attr("dy", "0.71em").attr("y", 48);
yAxis.selectAll("text")
    .attr("x", null).attr("dy", null)
    .attr("text-anchor", "middle")
    .attr("transform", `translate(${136 - margin.left},0) rotate(-90)`);

svg.append("text")
    .attr("x", 1713).attr("y", 68)
    .attr("text-anchor", "middle")
    .style("font-size", "41px").style("font-weight", "bold")
    .text("Records' locations on respect the hailstrike center");
svg.append("text")
    .attr("x", 1713).attr("y", 1987)
    .attr("text-anchor", "middle")
    .style("font-size", "32px").attr("fill", "#222")
    .text("Lon");
svg.append("text")
    .attr("text-anchor", "middle")
    .attr("transform", "translate(57,983) rotate(-90)")
    .style("font-size", "32px").attr("fill", "#222")
    .text("Lat");

// scale box
svg.append("rect")
    .attr("x", 286.6).attr("y", 268).attr("width", 417.4).attr("height", 103)
    .attr("fill", "white").attr("stroke", "black").attr("stroke-width", 4);
svg.append("line")
    .attr("x1", 336).attr("x2", 626).attr("y1", 286.6).attr("y2", 286.6)
    .attr("stroke", "black").attr("stroke-width", 14)
    .attr("stroke-linecap", "round").attr("stroke-dasharray", "58 58");
svg.append("text")
    .attr("x", 494).attr("y", 347)
    .attr("text-anchor", "middle")
    .style("font-size", "68px")
    .text("11 km");

// legend
const legend = svg.append("g");
legend.append("rect")
    .attr("x", 2833.5).attr("y", 1357).attr("width", 411.5).attr("height", 479)
    .attr("fill", "white").attr("stroke", "black").attr("stroke-width", 3);
legend.append("text")
    .attr("x", 3040).attr("y", 1438)
    .attr("text-anchor", "middle")
    .style("font-size", "66px")
    .text("Size");
legend.selectAll("circle")
    .data(sizeNames)
    .join("circle")
    .attr("cx", 2892)
    .attr("cy", (d, i) => 1516 + i * 79.5)
    .attr("r", 12.5)
    .attr("fill", (d, i) => fillColors[i])
    .attr("stroke", (d, i) => lineColors[i])
    .attr("stroke-width", 8);
legend.selectAll("text.item")
    .data(sizeNames)
    .join("text")
    .attr("class", "item")
    .attr("x", 2955)
    .attr("y", (d, i) => 1542 + i * 79.7)
    .style("font-size", "66px")
    .text(d => d);
</script>
</body>
</html>
